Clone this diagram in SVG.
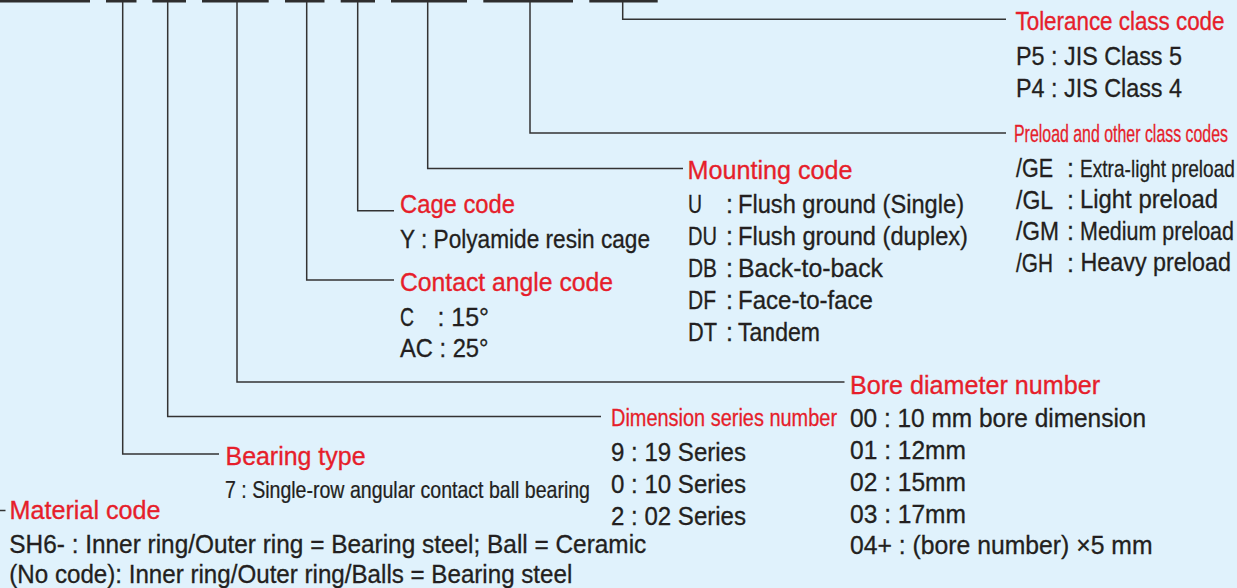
<svg xmlns="http://www.w3.org/2000/svg" width="1237" height="588" viewBox="0 0 1237 588">
<style>
text{font-family:"Liberation Sans",Arial,sans-serif;}
.t{fill:#e61e2b;stroke:#e61e2b;stroke-width:0.35;font-size:26px;}
.ts{fill:#e61e2b;stroke:#e61e2b;stroke-width:0.3;font-size:24px;}
.b{fill:#231f20;stroke:#231f20;stroke-width:0.3;font-size:25px;}
.bs{fill:#231f20;stroke:#231f20;stroke-width:0.25;font-size:23px;}
.c{stroke:#333;stroke-width:1.5;fill:none;}
.bar{fill:#2e2e2e;}
</style>
<rect x="0" y="0" width="1237" height="588" fill="#e0f2fc"/>
<g id="code-bars">
<rect class="bar" x="0" y="-3" width="90" height="5.5"/>
<rect class="bar" x="106" y="-3" width="30.5" height="5.5"/>
<rect class="bar" x="152.3" y="-3" width="33.7" height="5.5"/>
<rect class="bar" x="202" y="-3" width="66.7" height="5.5"/>
<rect class="bar" x="285" y="-3" width="39.5" height="5.5"/>
<rect class="bar" x="340.7" y="-3" width="34.3" height="5.5"/>
<rect class="bar" x="391" y="-3" width="76" height="5.5"/>
<rect class="bar" x="483.3" y="-3" width="89.7" height="5.5"/>
<rect class="bar" x="589.3" y="-3" width="68.4" height="5.5"/>
</g>
<g id="connectors">
<path class="c" d="M0 510.5H5.5"/>
<path class="c" d="M122.7 2V454H219"/>
<path class="c" d="M167.7 2V416.5H601"/>
<path class="c" d="M237 2V382H844.5"/>
<path class="c" d="M306.7 2V280H394"/>
<path class="c" d="M357.7 2V210.7H394"/>
<path class="c" d="M427.7 2V168.5H683"/>
<path class="c" d="M530 2V133H1006"/>
<path class="c" d="M622.7 2V19.3H1006"/>
</g>
<g id="tolerance">
<text class="t" x="0" y="30" transform="matrix(0.851 0 0 1 1015.5 0)" textLength="245.6" lengthAdjust="spacingAndGlyphs">Tolerance class code</text>
<text class="b" x="1016" y="65" textLength="166" lengthAdjust="spacingAndGlyphs">P5 : JIS Class 5</text>
<text class="b" x="1016" y="96.7" textLength="166" lengthAdjust="spacingAndGlyphs">P4 : JIS Class 4</text>
</g>
<g id="preload">
<text class="ts" x="0" y="142.5" transform="matrix(0.663 0 0 1 1014 0)" textLength="322.8" lengthAdjust="spacingAndGlyphs">Preload and other class codes</text>
<text class="b" x="1016" y="177" textLength="37" lengthAdjust="spacingAndGlyphs">/GE</text>
<text class="b" x="1067" y="177">:</text>
<text class="bs" x="0" y="177" transform="matrix(0.831 0 0 1 1080 0)" textLength="186.5" lengthAdjust="spacingAndGlyphs">Extra-light preload</text>
<text class="b" x="1016" y="208.5" textLength="37" lengthAdjust="spacingAndGlyphs">/GL</text>
<text class="b" x="1067" y="208.5">:</text>
<text class="b" x="0" y="208.5" transform="matrix(0.955 0 0 1 1080 0)" textLength="144.5" lengthAdjust="spacingAndGlyphs">Light preload</text>
<text class="b" x="1016" y="240" textLength="43" lengthAdjust="spacingAndGlyphs">/GM</text>
<text class="b" x="1067" y="240">:</text>
<text class="b" x="0" y="240" transform="matrix(0.859 0 0 1 1080 0)" textLength="179.3" lengthAdjust="spacingAndGlyphs">Medium preload</text>
<text class="b" x="1016" y="271.5" textLength="37" lengthAdjust="spacingAndGlyphs">/GH</text>
<text class="b" x="1067" y="271.5">:</text>
<text class="b" x="0" y="271.5" transform="matrix(0.934 0 0 1 1080.5 0)" textLength="161.1" lengthAdjust="spacingAndGlyphs">Heavy preload</text>
</g>
<g id="mounting">
<text class="t" x="687.5" y="179" textLength="165" lengthAdjust="spacingAndGlyphs">Mounting code</text>
<text class="b" x="688" y="212.5" textLength="14" lengthAdjust="spacingAndGlyphs">U</text>
<text class="b" x="726" y="212.5">:</text>
<text class="b" x="738" y="212.5" textLength="226" lengthAdjust="spacingAndGlyphs">Flush ground (Single)</text>
<text class="b" x="688" y="244.5" textLength="29" lengthAdjust="spacingAndGlyphs">DU</text>
<text class="b" x="726" y="244.5">:</text>
<text class="b" x="738" y="244.5" textLength="230" lengthAdjust="spacingAndGlyphs">Flush ground (duplex)</text>
<text class="b" x="688" y="276.5" textLength="29" lengthAdjust="spacingAndGlyphs">DB</text>
<text class="b" x="726" y="276.5">:</text>
<text class="b" x="738" y="276.5" textLength="145" lengthAdjust="spacingAndGlyphs">Back-to-back</text>
<text class="b" x="688" y="308.5" textLength="28" lengthAdjust="spacingAndGlyphs">DF</text>
<text class="b" x="726" y="308.5">:</text>
<text class="b" x="738" y="308.5" textLength="135" lengthAdjust="spacingAndGlyphs">Face-to-face</text>
<text class="b" x="688" y="340.5" textLength="29" lengthAdjust="spacingAndGlyphs">DT</text>
<text class="b" x="726" y="340.5">:</text>
<text class="b" x="738" y="340.5" textLength="82" lengthAdjust="spacingAndGlyphs">Tandem</text>
</g>
<g id="cage">
<text class="t" x="400" y="213" textLength="115" lengthAdjust="spacingAndGlyphs">Cage code</text>
<text class="b" x="400" y="248.3" textLength="250" lengthAdjust="spacingAndGlyphs">Y : Polyamide resin cage</text>
</g>
<g id="contact-angle">
<text class="t" x="400" y="291" textLength="213" lengthAdjust="spacingAndGlyphs">Contact angle code</text>
<text class="b" x="400" y="325.5" textLength="14" lengthAdjust="spacingAndGlyphs">C</text>
<text class="b" x="437.5" y="325.5" textLength="51.5" lengthAdjust="spacingAndGlyphs">: 15°</text>
<text class="b" x="400" y="357" textLength="88.5" lengthAdjust="spacingAndGlyphs">AC : 25°</text>
</g>
<g id="bore-diameter">
<text class="t" x="850" y="393.5" textLength="250" lengthAdjust="spacingAndGlyphs">Bore diameter number</text>
<text class="b" x="850" y="426.5" textLength="296" lengthAdjust="spacingAndGlyphs">00 : 10 mm bore dimension</text>
<text class="b" x="850" y="458.7" textLength="116" lengthAdjust="spacingAndGlyphs">01 : 12mm</text>
<text class="b" x="850" y="490.7" textLength="116" lengthAdjust="spacingAndGlyphs">02 : 15mm</text>
<text class="b" x="850" y="522.8" textLength="116" lengthAdjust="spacingAndGlyphs">03 : 17mm</text>
<text class="b" x="850" y="554" textLength="302.5" lengthAdjust="spacingAndGlyphs">04+ : (bore number) ×5 mm</text>
</g>
<g id="dimension-series">
<text class="ts" x="0" y="426" transform="matrix(0.831 0 0 1 611 0)" textLength="272" lengthAdjust="spacingAndGlyphs">Dimension series number</text>
<text class="b" x="611" y="460.5" textLength="135" lengthAdjust="spacingAndGlyphs">9 : 19 Series</text>
<text class="b" x="611" y="492.5" textLength="135" lengthAdjust="spacingAndGlyphs">0 : 10 Series</text>
<text class="b" x="611" y="524.5" textLength="135" lengthAdjust="spacingAndGlyphs">2 : 02 Series</text>
</g>
<g id="bearing-type">
<text class="t" x="225.5" y="464.5" textLength="140" lengthAdjust="spacingAndGlyphs">Bearing type</text>
<text class="bs" x="0" y="498.3" transform="matrix(0.85 0 0 1 225 0)" textLength="429.4" lengthAdjust="spacingAndGlyphs">7 : Single-row angular contact ball bearing</text>
</g>
<g id="material">
<text class="t" x="9.5" y="518.5" textLength="151" lengthAdjust="spacingAndGlyphs">Material code</text>
<text class="b" x="9.3" y="553.3" textLength="637" lengthAdjust="spacingAndGlyphs">SH6- : Inner ring/Outer ring = Bearing steel; Ball = Ceramic</text>
<text class="b" x="9.3" y="583.3" textLength="563" lengthAdjust="spacingAndGlyphs">(No code): Inner ring/Outer ring/Balls = Bearing steel</text>
</g>
</svg>
